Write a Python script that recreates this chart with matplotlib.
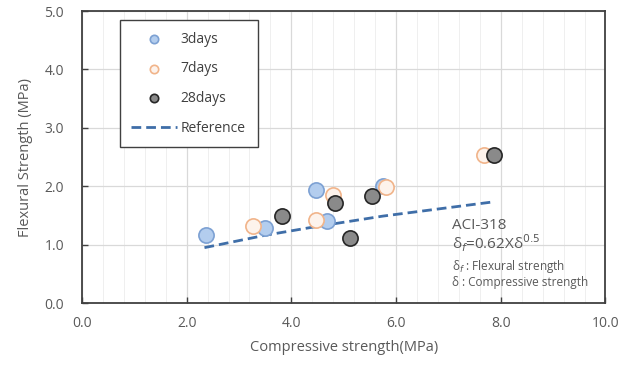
import numpy as np
import matplotlib
matplotlib.use('Agg')
import matplotlib.pyplot as plt
from matplotlib.ticker import MultipleLocator

plt.rcParams['font.family'] = ['Open Sans', 'DejaVu Sans']

# 값
x_3d = [2.37, 3.49, 4.47, 4.68, 5.75]
y_3d = [1.16, 1.28, 1.94, 1.41, 2.00]
x_7d = [3.26, 4.47, 4.79, 5.80, 7.68]
y_7d = [1.32, 1.43, 1.85, 1.99, 2.53]
x_28d = [3.82, 4.84, 5.12, 5.54, 7.87]
y_28d = [1.50, 1.72, 1.12, 1.83, 2.53]
x_ref = [2.34, 3.49, 4.47, 5.75, 7.83]
y_ref = [0.95, 1.16, 1.31, 1.49, 1.73]

x_ticks = [0, 2, 4, 6, 8, 10]
y_ticks = [0, 1, 2, 3, 4, 5]

txt = '#595959'

fig = plt.figure(figsize=(6.21, 3.67), dpi=100)
ax = fig.add_axes([0.132, 0.174, 0.843, 0.796])

ax.xaxis.set_minor_locator(MultipleLocator(0.4))
ax.grid(True, which='major', color='#d9d9d9', linewidth=0.9, zorder=0)
ax.grid(True, which='minor', axis='x', color='#efefef', linewidth=0.7, zorder=0)
ax.set_axisbelow(True)

ax.plot(x_ref, y_ref, linestyle=(0, (3.5, 1.8)), color='#3f6ea8', linewidth=2.0,
        label='Reference', zorder=2)
ax.scatter(x_3d, y_3d, s=120, facecolor='#b3cdee', edgecolor='#7da1d3',
           linewidth=1.2, label='3days', zorder=3)
ax.scatter(x_7d, y_7d, s=120, facecolor='#fdf3ec', edgecolor='#f1b48a',
           linewidth=1.2, label='7days', zorder=3)
ax.scatter(x_28d, y_28d, s=120, facecolor='#8a8a8a', edgecolor='#262626',
           linewidth=1.2, label='28days', zorder=3)

ax.set_xlim(0, 10)
ax.set_ylim(0, 5)
ax.set_xticks(x_ticks)
ax.set_yticks(y_ticks)
ax.set_xticklabels([f'{v:.1f}' for v in x_ticks])
ax.set_yticklabels([f'{v:.1f}' for v in y_ticks])
ax.tick_params(which='major', direction='in', length=4, width=1, color='#404040',
               labelsize=10, labelcolor=txt)
ax.tick_params(axis='x', pad=9)
ax.tick_params(axis='y', pad=13)
ax.tick_params(which='minor', length=0)
for s in ax.spines.values():
    s.set_color('#404040')
    s.set_linewidth(1.3)

ax.set_xlabel('Compressive strength(MPa)', fontsize=10.5, color=txt, labelpad=7)
ax.set_ylabel('Flexural Strength (MPa)', fontsize=10.5, color=txt, labelpad=8)

h, l = ax.get_legend_handles_labels()
order = [1, 2, 3, 0]
leg = ax.legend([h[i] for i in order], [l[i] for i in order],
                loc='upper left', bbox_to_anchor=(0.072, 0.969), borderaxespad=0,
                fancybox=False, edgecolor='#404040', framealpha=1,
                fontsize=10, labelspacing=1.05, handlelength=3.3, handletextpad=0.25,
                markerscale=0.55, borderpad=0.85)
leg.get_frame().set_linewidth(1.0)
for t in leg.get_texts():
    t.set_color('#404040')

ax.text(7.07, 1.33, 'ACI-318', fontsize=11, color=txt, va='center')
ax.text(7.07, 1.03, r'δ$_f$=0.62Xδ$^{0.5}$', fontsize=11, color=txt, va='center')
ax.text(7.07, 0.62, r'δ$_f$ : Flexural strength', fontsize=8.5, color=txt, va='center')
ax.text(7.07, 0.36, 'δ : Compressive strength', fontsize=8.5, color=txt, va='center')

fig.savefig('out.png', dpi=100)
